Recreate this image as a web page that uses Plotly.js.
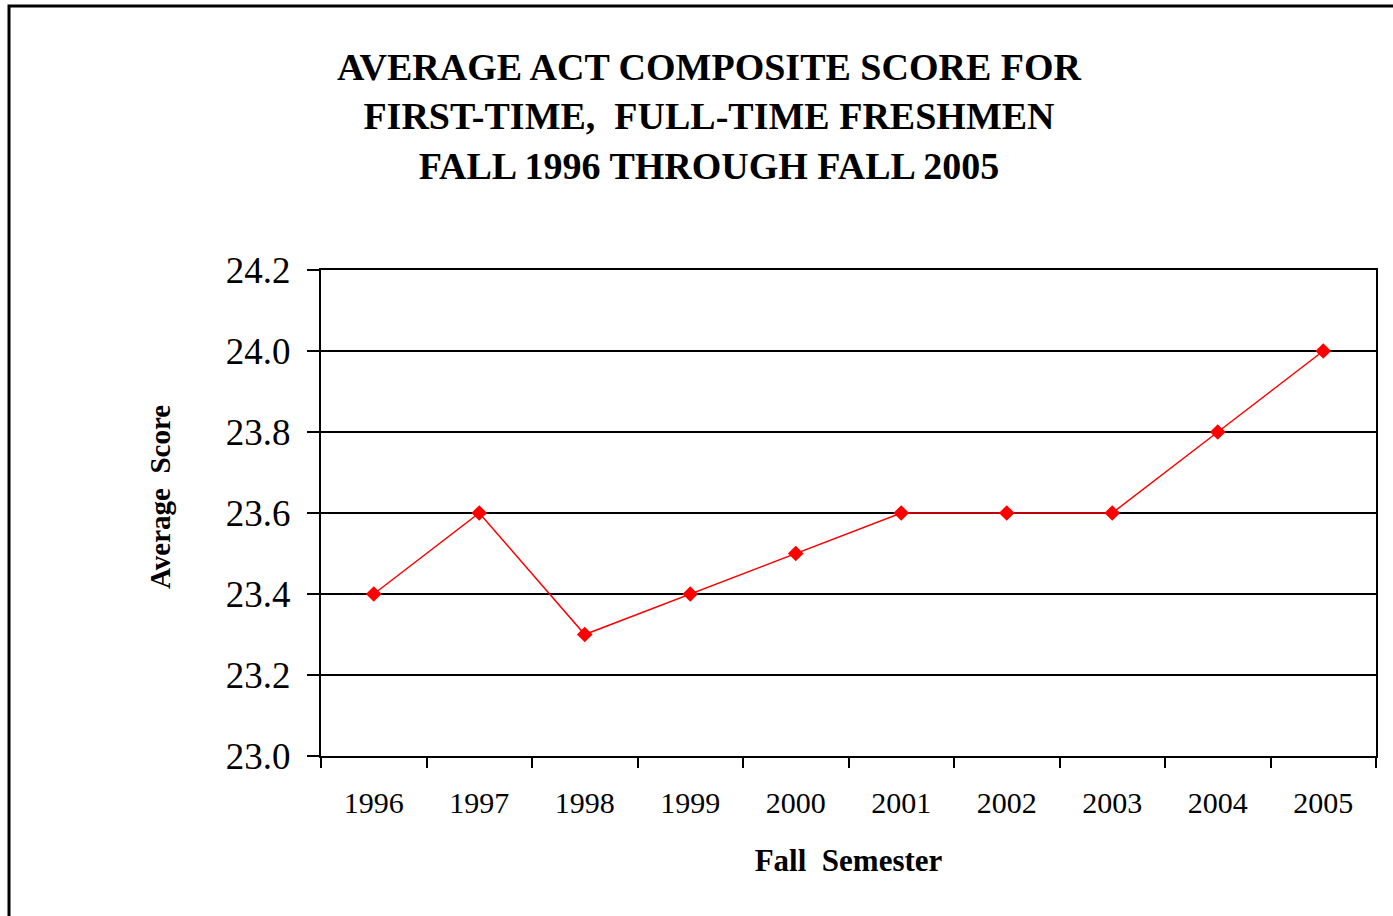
<!DOCTYPE html>
<html>
<head>
<meta charset="utf-8">
<script src="https://cdn.plot.ly/plotly-3.0.1.min.js"></script>
<style>
  html, body { margin: 0; padding: 0; background: #fff; }
  #chart { width: 1393px; height: 916px; }
</style>
</head>
<body>
<div id="chart"></div>
<script>
const years = ["1996", "1997", "1998", "1999", "2000", "2001", "2002", "2003", "2004", "2005"];
const avgScores = [23.4, 23.6, 23.3, 23.4, 23.5, 23.6, 23.6, 23.6, 23.8, 24.0];
const yTicks = [23.0, 23.2, 23.4, 23.6, 23.8, 24.0, 24.2];
const titleLines = ["AVERAGE ACT COMPOSITE SCORE FOR", "FIRST-TIME,  FULL-TIME FRESHMEN", "FALL 1996 THROUGH FALL 2005"];
const xTitle = "Fall  Semester";
const yTitle = "Average  Score";

const serif = "Liberation Serif, Times New Roman, serif";

const trace = {
  x: years,
  y: avgScores,
  type: "scatter",
  mode: "lines+markers",
  line: { color: "#ff0000", width: 1.5 },
  marker: { symbol: "diamond", size: 12, color: "#ff0000" },
  hoverinfo: "x+y"
};

const layout = {
  width: 1393,
  height: 916,
  margin: { l: 321, r: 17, t: 270, b: 160 },
  paper_bgcolor: "#ffffff",
  plot_bgcolor: "#ffffff",
  showlegend: false,
  xaxis: {
    type: "category",
    range: [-0.5, 9.5],
    tickson: "boundaries",
    ticks: "outside",
    ticklen: 10,
    tickwidth: 2,
    tickcolor: "#000",
    showline: true,
    linecolor: "#000",
    linewidth: 2,
    mirror: true,
    showgrid: false,
    zeroline: false,
    tickfont: { family: serif, size: 30, color: "#000" },
    ticklabelstandoff: 19,
    title: {
      text: "<b>" + xTitle + "</b>",
      font: { family: serif, size: 31, color: "#000" },
      standoff: 31
    }
  },
  yaxis: {
    range: [23.0, 24.2],
    tickvals: yTicks,
    tickformat: ".1f",
    ticks: "outside",
    ticklen: 12,
    tickwidth: 2,
    tickcolor: "#000",
    showline: true,
    linecolor: "#000",
    linewidth: 2,
    mirror: true,
    showgrid: true,
    gridcolor: "#000",
    gridwidth: 1.5,
    zeroline: false,
    tickfont: { family: serif, size: 37, color: "#000" },
    ticklabelstandoff: 9
  },
  annotations: [
    {
      text: titleLines.map(s => "<b>" + s + "</b>").join("<br>"),
      xref: "paper", yref: "paper",
      x: (709 - 321) / 1055, y: (756 - 116) / 486,
      xanchor: "center", yanchor: "middle",
      showarrow: false,
      font: { family: serif, size: 38, color: "#000" }
    },
    {
      text: "<b>" + yTitle + "</b>",
      xref: "paper", yref: "paper",
      x: (160 - 321) / 1055, y: (756 - 497) / 486,
      xanchor: "center", yanchor: "middle",
      textangle: -90,
      showarrow: false,
      font: { family: serif, size: 29, color: "#000" }
    }
  ],
  shapes: [{
    type: "rect",
    xref: "paper", yref: "paper",
    x0: (9 - 321) / 1055, x1: 1.2,
    y0: -0.5, y1: (756 - 6) / 486,
    line: { color: "#000", width: 3 },
    fillcolor: "rgba(0,0,0,0)",
    layer: "below"
  }]
};

Plotly.newPlot("chart", [trace], layout, { displayModeBar: false, staticPlot: true });
</script>
</body>
</html>
